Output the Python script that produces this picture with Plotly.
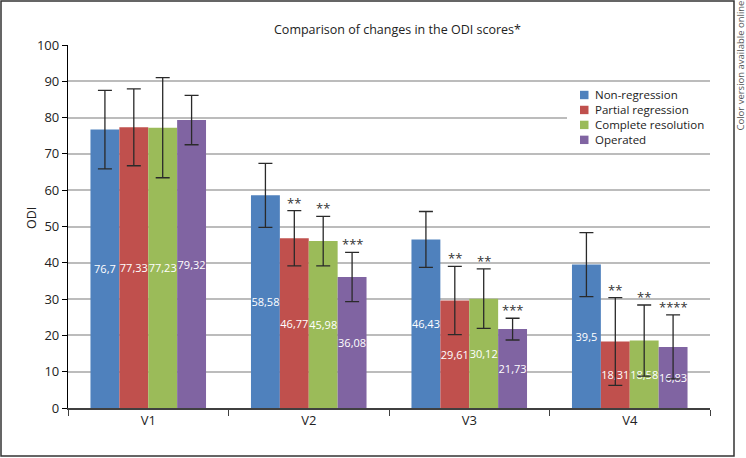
import plotly.graph_objects as go

visits = ["V1", "V2", "V3", "V4"]
groups = ["Non-regression", "Partial regression", "Complete resolution", "Operated"]
colors = ["#4f81bd", "#c0504d", "#9bbb59", "#8064a2"]

non_regression = [76.7, 58.58, 46.43, 39.5]
partial_regression = [77.33, 46.77, 29.61, 18.31]
complete_resolution = [77.23, 45.98, 30.12, 18.58]
operated = [79.32, 36.08, 21.73, 16.83]

sd_non_regression = [10.8, 8.8, 7.7, 8.8]
sd_partial_regression = [10.6, 7.6, 9.4, 12.1]
sd_complete_resolution = [13.8, 6.8, 8.2, 9.8]
sd_operated = [6.8, 6.8, 3.0, 8.8]

stars_partial = ["", "**", "**", "**"]
stars_complete = ["", "**", "**", "**"]
stars_operated = ["", "***", "***", "****"]

values = [non_regression, partial_regression, complete_resolution, operated]
errors = [sd_non_regression, sd_partial_regression, sd_complete_resolution, sd_operated]
stars = [["", "", "", ""], stars_partial, stars_complete, stars_operated]

FONT = "Open Sans"
W, H = 746, 458
L, R, T, B = 68, 36, 45, 50
PW, PH = W - L - R, H - T - B
bargap = 0.28
bar_px = PW / 4 * (1 - bargap) / 4


def px(x):  # pixel -> paper x
    return (x - L) / PW


def py(y):  # pixel -> paper y
    return (H - B - y) / PH


fig = go.Figure()
for i, name in enumerate(groups):
    fig.add_trace(go.Bar(
        x=visits, y=values[i], name=name,
        marker=dict(color=colors[i], line=dict(width=0)),
        text=[str(v).replace(".", ",") for v in values[i]],
        textposition="inside", insidetextanchor="middle", textangle=0, constraintext="none",
        textfont=dict(color="white", size=11, family=FONT),
        error_y=dict(type="data", array=errors[i], color="#2a2a2a", thickness=1.3, width=7),
        showlegend=False,
    ))

# significance asterisks above the whiskers
for i in range(4):
    for j, v in enumerate(visits):
        if stars[i][j]:
            fig.add_annotation(x=v, y=values[i][j] + errors[i][j], text=stars[i][j],
                               showarrow=False, yanchor="bottom", yshift=-3,
                               xshift=(i - 1.5) * bar_px,
                               font=dict(size=13, color="#333", family=FONT))

# legend drawn by hand (tighter rows than plotly's own legend)
leg_font = 11.5
row_h = leg_font * 1.3
fig.add_shape(type="rect", xref="paper", yref="paper", x0=px(567), x1=1, y0=py(150), y1=py(86),
              line=dict(width=0), fillcolor="white", layer="above")
for k, c in enumerate(colors):
    yy = 95 + k * row_h
    fig.add_shape(type="rect", xref="paper", yref="paper", x0=px(580), x1=px(588.5),
                  y0=py(yy + 4.2), y1=py(yy - 4.2), line=dict(width=0), fillcolor=c, layer="above")
fig.add_annotation(text="<br>".join(groups), xref="paper", yref="paper", x=px(593),
                   y=py(95 + 1.5 * row_h), xanchor="left", yanchor="middle", align="left",
                   showarrow=False, font=dict(size=leg_font, color="#222", family=FONT))

fig.add_annotation(text="Comparison of changes in the ODI scores*", xref="paper", yref="paper",
                   x=px(397), y=py(30), xanchor="center", yanchor="middle", showarrow=False,
                   font=dict(size=12.5, color="#222", family=FONT))
fig.add_annotation(text="ODI", xref="paper", yref="paper", x=px(31), y=py(218), textangle=-90,
                   xanchor="center", yanchor="middle", showarrow=False,
                   font=dict(size=12.5, color="#222", family=FONT))
fig.add_annotation(text="Color version available online", xref="paper", yref="paper",
                   x=px(739.5), y=py(66), textangle=-90, xanchor="center", yanchor="middle",
                   showarrow=False, font=dict(size=9.5, color="#555", family=FONT))

# outer frame
fig.add_shape(type="rect", xref="paper", yref="paper", x0=px(1), x1=px(734), y0=py(456), y1=py(1),
              line=dict(color="#333", width=1.5), fillcolor="rgba(0,0,0,0)", layer="below")

fig.update_layout(
    width=W, height=H,
    margin=dict(l=L, r=R, t=T, b=B),
    barmode="group", bargap=bargap, bargroupgap=0,
    plot_bgcolor="white", paper_bgcolor="white",
    font=dict(family=FONT, color="#222"),
)
fig.update_yaxes(range=[0, 100], dtick=10, showgrid=True, gridcolor="#bcbcbc", gridwidth=1.5,
                 showline=True, linecolor="black", linewidth=1.3, ticks="outside", ticklen=5,
                 tickcolor="black", tickfont=dict(size=13, color="#222"), zeroline=False)
fig.update_xaxes(showline=True, linecolor="#404040", linewidth=1.5, ticks="outside", ticklen=6,
                 tickson="boundaries", tickcolor="#404040", tickfont=dict(size=13, color="#222"))

fig.write_html("out.html", config={"displayModeBar": False},
               post_script="document.body.style.margin='0';")
